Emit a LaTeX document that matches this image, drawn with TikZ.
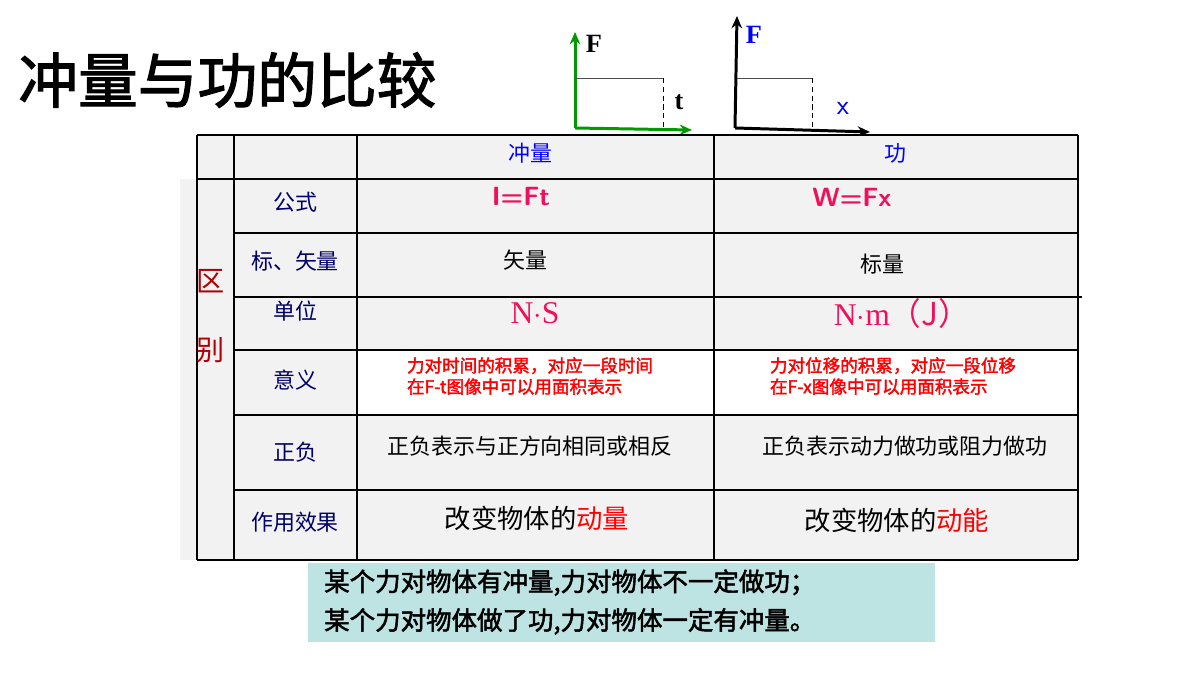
\documentclass[tikz,border=0pt]{standalone}
\usepackage{fontspec}
\setmainfont{Liberation Serif}
\newfontfamily\cjk{Noto Sans CJK SC}
\newfontfamily\cjkb{Noto Sans CJK SC}[FakeBold=2]
\usetikzlibrary{calc, arrows.meta}
\definecolor{cellgray}{HTML}{F2F2F2}
\definecolor{boxteal}{HTML}{BEE3E3}
\definecolor{pinkred}{HTML}{F0105A}
\begin{document}
\begin{tikzpicture}[x=0.02cm, y=-0.02cm,
  rowline/.style={line width=1.4pt},
  colline/.style={line width=0.6pt},
  axis/.style={line width=1.7pt, -{Stealth[length=7pt, width=6pt]}},
  lab/.style={font=\cjk\fontsize{12.5}{14}\selectfont, text=blue!40!black},
  cell/.style={font=\cjk\fontsize{12.5}{14}\selectfont},
  big/.style={font=\cjk\fontsize{15}{17}\selectfont},
  note/.style={font=\cjkb\fontsize{10}{12}\selectfont, text=red, align=left}]

        % page size
        \useasboundingbox (0,0) rectangle (1200,675);

        % title
        \node[font=\cjkb\fontsize{34}{36}\selectfont, anchor=west, inner sep=0pt] (title) at (18,80) {冲量与功的比较};

        % F-t graph
        \coordinate (ft o) at (575,128);
        \draw[green!60!black, axis] (ft o) -- (575,32) coordinate (ft y);
        \draw[green!60!black, axis] (ft o) -- (692,130) coordinate (ft x);
        \draw[gray!60!black] (575,78) -- (663,78);
        \draw[densely dashed] (663,78) -- (663,128);
        \node[font=\bfseries\fontsize{15}{17}\selectfont] (ft F) at (594,44) {F};
        \node[font=\bfseries\fontsize{15}{17}\selectfont] (ft t) at (679,102) {t};

        % F-x graph
        \coordinate (fx o) at (735,128);
        \draw[axis] (fx o) -- (737,16) coordinate (fx y);
        \draw[axis] (fx o) -- (870,132) coordinate (fx x);
        \draw[gray!60!black] (737,78) -- (812,78);
        \draw[densely dashed] (812,78) -- (812,128);
        \node[font=\bfseries\fontsize{15}{17}\selectfont, text=blue] (fx F) at (754,35) {F};
        \node[font=\sffamily\fontsize{16}{18}\selectfont, text=blue] (fx X) at (843,108) {x};

        % table background
        \fill[cellgray] (180,179) rectangle (197,560);
        \fill[cellgray] (197,135) rectangle (1078,560);
        \fill[white] (357,350) rectangle (1078,415);

        % grid
        \foreach \x in {197,234,357,714,1078}
                \draw[colline] (\x,135) -- (\x,560);
        \draw[rowline] (197,135) -- (1078,135);
        \draw[rowline] (197,179) -- (1078,179);
        \foreach \y in {233,350,415,490}
                \draw[rowline] (234,\y) -- (1078,\y);
        \draw[rowline] (234,297) -- (1082,297);
        \draw[colline] (197,560) -- (1078,560);

        % header
        \node[lab, text=blue] (h imp) at (530,153) {冲量};
        \node[lab, text=blue] (h work) at (895,153) {功};
        \node[font=\cjk\fontsize{16}{18}\selectfont, text=red!70!black] (diff a) at (211,281) {区};
        \node[font=\cjk\fontsize{16}{18}\selectfont, text=red!70!black] (diff b) at (211,350) {别};

        % row labels
        \foreach \y/\t in {202/公式, 261/标、矢量, 311/单位, 380/意义, 452/正负, 522/作用效果}
                \node[lab] at (295,\y) {\t};

        % impulse column
        \node[font=\sffamily\bfseries\fontsize{15}{17}\selectfont, text=pinkred] (i f) at (521,197) {I=Ft};
        \node[cell] (i v) at (525,260) {矢量};
        \node[font=\fontsize{18}{20}\selectfont, text=pinkred] (i u) at (535,313) {N$\cdot$S};
        \node[note] (i m) at (530,376) {力对时间的积累，对应一段时间\\在F-t图像中可以用面积表示};
        \node[cell] (i s) at (530,446) {正负表示与正方向相同或相反};
        \node[big] (i e) at (537,518) {改变物体的\textcolor{red}{动量}};

        % work column
        \node[font=\sffamily\bfseries\fontsize{15}{17}\selectfont, text=pinkred] (w f) at (852,197) {W=Fx};
        \node[cell] (w v) at (882,264) {标量};
        \node[font=\fontsize{18}{20}\selectfont, text=pinkred] (w u) at (902,313) {N$\cdot$m\cjk（J）};
        \node[note] (w m) at (893,376) {力对位移的积累，对应一段位移\\在F-x图像中可以用面积表示};
        \node[cell] (w s) at (905,446) {正负表示动力做功或阻力做功};
        \node[big] (w e) at (897,520) {改变物体的\textcolor{red}{动能}};

        % conclusion
        \fill[boxteal] (308,563) rectangle (935,642);
        \node[font=\cjkb\fontsize{14.5}{22}\selectfont, anchor=west, align=left] (concl) at (318,602)
                {某个力对物体有冲量,力对物体不一定做功；\\某个力对物体做了功,力对物体一定有冲量。};

\end{tikzpicture}
\end{document}
